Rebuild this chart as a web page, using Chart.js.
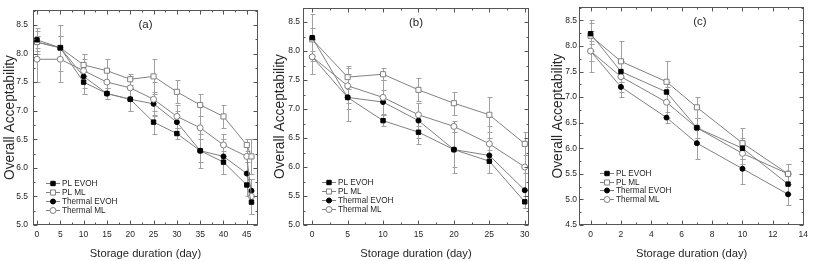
<!DOCTYPE html>
<html>
<head>
<meta charset="utf-8">
<script src="https://cdn.jsdelivr.net/npm/chart.js@4.4.0/dist/chart.umd.min.js"></script>
<style>
  html, body { margin: 0; padding: 0; background: #fff; }
  #wrap { position: relative; width: 813px; height: 261px; overflow: hidden; }
  canvas { position: absolute; top: 0; }
</style>
</head>
<body>
<div id="wrap">
  <canvas id="chartA" width="270" height="261" style="left:0"></canvas>
  <canvas id="chartB" width="270" height="261" style="left:270px"></canvas>
  <canvas id="chartC" width="273" height="261" style="left:540px"></canvas>
</div>
<script>
const seriesNames = ['PL EVOH', 'PL ML', 'Thermal EVOH', 'Thermal ML'];

// panel (a)
const daysA = [0, 5, 10, 15, 20, 25, 30, 35, 40, 45, 46];
const plEvohA = [8.24, 8.1, 7.5, 7.3, 7.2, 6.8, 6.6, 6.3, 6.1, 5.7, 5.4];
const plMlA = [8.2, 8.1, 7.8, 7.7, 7.55, 7.6, 7.33, 7.1, 6.9, 6.4, 6.2];
const thEvohA = [8.2, 8.1, 7.6, 7.3, 7.2, 7.12, 6.8, 6.3, 6.2, 5.9, 5.6];
const thMlA = [7.9, 7.9, 7.7, 7.5, 7.4, 7.2, 6.9, 6.7, 6.4, 6.2, 5.5];
const plEvohErrA = [0.2, 0.2, 0.2, 0.1, 0.2, 0.2, 0.1, 0.3, 0.2, 0.2, 0.2];
const plMlErrA = [0.2, 0.4, 0.2, 0.2, 0.1, 0.3, 0.2, 0.2, 0.2, 0.1, 0.3];
const thEvohErrA = [0.1, 0.2, 0.3, 0.1, 0.2, 0.2, 0.2, 0.2, 0.3, 0.2, 0.2];
const thMlErrA = [0.4, 0.4, 0.3, 0.2, 0.2, 0.3, 0.2, 0.4, 0.2, 0.3, 0.3];

// panel (b)
const daysB = [0, 5, 10, 15, 20, 25, 30];
const plEvohB = [8.23, 7.2, 6.8, 6.6, 6.3, 6.1, 5.4];
const plMlB = [8.2, 7.55, 7.6, 7.33, 7.1, 6.9, 6.4];
const thEvohB = [7.9, 7.2, 7.12, 6.8, 6.3, 6.2, 5.6];
const thMlB = [7.9, 7.4, 7.2, 6.9, 6.7, 6.4, 6.0];
const plEvohErrB = [0.4, 0.4, 0.1, 0.2, 0.3, 0.2, 0.1];
const plMlErrB = [0.2, 0.2, 0.1, 0.2, 0.2, 0.3, 0.2];
const thEvohErrB = [0.3, 0.2, 0.2, 0.3, 0.4, 0.3, 0.3];
const thMlErrB = [0.3, 0.3, 0.3, 0.2, 0.1, 0.3, 0.4];

// panel (c)
const daysC = [0, 2, 5, 7, 10, 13];
const plEvohC = [8.24, 7.5, 7.1, 6.4, 6.0, 5.3];
const plMlC = [8.2, 7.7, 7.3, 6.8, 6.1, 5.5];
const thEvohC = [7.9, 7.2, 6.6, 6.1, 5.6, 5.1];
const thMlC = [7.9, 7.4, 6.9, 6.4, 5.9, 5.5];
const plEvohErrC = [0.2, 0.2, 0.2, 0.2, 0.2, 0.2];
const plMlErrC = [0.3, 0.4, 0.4, 0.2, 0.3, 0.2];
const thEvohErrC = [0.2, 0.2, 0.1, 0.3, 0.3, 0.2];
const thMlErrC = [0.4, 0.3, 0.3, 0.2, 0.2, 0.2];

// tick labels
const xTicksA = [0, 5, 10, 15, 20, 25, 30, 35, 40, 45];
const xTicksB = [0, 5, 10, 15, 20, 25, 30];
const xTicksC = [0, 2, 4, 6, 8, 10, 12, 14];
const yTicksAB = [5.0, 5.5, 6.0, 6.5, 7.0, 7.5, 8.0, 8.5];
const yTicksC = [4.5, 5.0, 5.5, 6.0, 6.5, 7.0, 7.5, 8.0, 8.5];

const sans = "'Liberation Sans', Arial, sans-serif";
const textColor = '#262626';

const markers = [
    {pointStyle: 'rect', radius: 3.1, fill: '#000', stroke: '#000', order: 0},
    {pointStyle: 'rect', radius: 3.6, fill: '#fff', stroke: '#808080', order: 1},
    {pointStyle: 'circle', radius: 2.5, fill: '#000', stroke: '#000', order: 3},
    {pointStyle: 'circle', radius: 3, fill: '#fff', stroke: '#808080', order: 2}
];

const midpoints = (ticks, min, max) => {
    const step = ticks[1] - ticks[0];
    const out = [];
    [ticks[0] - step].concat(ticks).forEach(v => {
        const m = v + step / 2;
        if (m > min && m < max) out.push(m);
    });
    return out;
};

// error bars under the lines
const errorBars = {
    id: 'errorBars',
    beforeDatasetsDraw(chart) {
        const ctx = chart.ctx, ys = chart.scales.y;
        ctx.save();
        ctx.strokeStyle = '#a0a0a0';
        ctx.lineWidth = 1;
        chart.data.datasets.forEach((ds, i) => {
            chart.getDatasetMeta(i).data.forEach((pt, j) => {
                const v = ds.data[j].y, e = ds.errors[j];
                const x = Math.round(pt.x) + 0.5;
                const top = Math.round(ys.getPixelForValue(v + e)) + 0.5;
                const bot = Math.round(ys.getPixelForValue(v - e)) + 0.5;
                ctx.beginPath();
                ctx.moveTo(x, top); ctx.lineTo(x, bot);
                ctx.moveTo(x - 2, top); ctx.lineTo(x + 3, top);
                ctx.moveTo(x - 2, bot); ctx.lineTo(x + 3, bot);
                ctx.stroke();
            });
        });
        ctx.restore();
    }
};

// box with inward ticks on all four sides
const frame = {
    id: 'frame',
    afterDraw(chart, args, o) {
        const {ctx, chartArea: a, scales: {x, y}} = chart;
        const L = Math.round(a.left) + 0.5, R = Math.round(a.right) - 0.5;
        const T = Math.round(a.top) + 0.5, B = Math.round(a.bottom) - 0.5;
        ctx.save();
        ctx.strokeStyle = '#555';
        ctx.lineWidth = 1;
        ctx.strokeRect(L, T, R - L, B - T);
        ctx.beginPath();
        const tx = (v, len) => {
            const p = Math.round(x.getPixelForValue(v)) + 0.5;
            ctx.moveTo(p, B); ctx.lineTo(p, B - len);
            ctx.moveTo(p, T); ctx.lineTo(p, T + len);
        };
        const ty = (v, len) => {
            const p = Math.round(y.getPixelForValue(v)) + 0.5;
            ctx.moveTo(L, p); ctx.lineTo(L + len, p);
            ctx.moveTo(R, p); ctx.lineTo(R - len, p);
        };
        o.xTicks.forEach(v => tx(v, 4));
        midpoints(o.xTicks, x.min, x.max).forEach(v => tx(v, 2));
        o.yTicks.forEach(v => ty(v, 4));
        midpoints(o.yTicks, y.min, y.max).forEach(v => ty(v, 2));
        ctx.stroke();
        ctx.restore();
    }
};

// legend inside lower-left corner + panel letter
const insideLegend = {
    id: 'insideLegend',
    afterDatasetsDraw(chart, args, o) {
        const ctx = chart.ctx, a = chart.chartArea;
        ctx.save();
        ctx.textBaseline = 'middle';
        chart.data.datasets.forEach((ds, i) => {
            const x = a.left + o.dx, yy = Math.round(o.top + i * o.step) + 0.5;
            ctx.strokeStyle = ds.borderColor;
            ctx.lineWidth = 1;
            ctx.beginPath(); ctx.moveTo(x, yy); ctx.lineTo(x + 14, yy); ctx.stroke();
            ctx.fillStyle = ds.pointBackgroundColor;
            ctx.strokeStyle = ds.pointBorderColor;
            Chart.helpers.drawPoint(ctx, {pointStyle: ds.pointStyle, radius: ds.pointRadius, borderWidth: 1, rotation: 0}, x + 7, yy);
            ctx.fillStyle = textColor;
            ctx.font = '8.2px ' + sans;
            ctx.fillText(ds.label, x + 16, yy + 0.5);
        });
        ctx.font = '11.5px ' + sans;
        ctx.textAlign = 'center';
        ctx.fillStyle = textColor;
        ctx.fillText(o.letter, a.left + (a.right - a.left) * o.letterAt, a.top + 15);
        ctx.restore();
    }
};

function makeChart(id, p) {
    const datasets = p.values.map((vals, i) => ({
        label: seriesNames[i],
        data: p.days.map((d, j) => ({x: d, y: vals[j]})),
        errors: p.errors[i],
        order: markers[i].order,
        borderColor: '#808080',
        borderWidth: 1,
        pointStyle: markers[i].pointStyle,
        pointRadius: markers[i].radius,
        pointBackgroundColor: markers[i].fill,
        pointBorderColor: markers[i].stroke,
        pointBorderWidth: 1,
        tension: 0,
        fill: false
    }));
    return new Chart(document.getElementById(id), {
        type: 'line',
        data: {datasets: datasets},
        plugins: [errorBars, insideLegend, frame],
        options: {
            responsive: false,
            animation: false,
            layout: {padding: {left: p.padLeft, right: p.padRight, top: 1, bottom: 0}},
            scales: {
                x: {
                    type: 'linear',
                    min: p.xMin,
                    max: p.xMax,
                    afterBuildTicks: sc => { sc.ticks = p.xTicks.map(v => ({value: v})); },
                    afterFit: sc => { sc.height = 36; },
                    grid: {display: false, drawTicks: false},
                    border: {display: false},
                    ticks: {color: textColor, font: {family: sans, size: 8.5}, padding: 5, maxRotation: 0, autoSkip: false},
                    title: {display: true, text: 'Storage duration (day)', color: textColor,
                        font: {family: sans, size: 11.2, lineHeight: 1}, padding: {top: 0, bottom: 1}}
                },
                y: {
                    min: p.yMin,
                    max: p.yMax,
                    afterBuildTicks: sc => { sc.ticks = p.yTicks.map(v => ({value: v})); },
                    afterFit: sc => { sc.width = p.yWidth; },
                    grid: {display: false, drawTicks: false},
                    border: {display: false},
                    ticks: {color: textColor, font: {family: sans, size: 8.5}, padding: p.tickPad,
                        callback: v => v.toFixed(1)},
                    title: {display: true, text: 'Overall Acceptability', color: textColor,
                        font: {family: sans, size: 13.8, lineHeight: 1}, padding: {top: 3, bottom: 0}}
                }
            },
            plugins: {
                legend: {display: false},
                tooltip: {enabled: false},
                frame: {xTicks: p.xTicks, yTicks: p.yTicks},
                insideLegend: {dx: p.legendDx, top: p.legendTop, step: p.legendStep, letter: p.letter, letterAt: p.letterAt}
            }
        }
    });
}

makeChart('chartA', {
    days: daysA,
    values: [plEvohA, plMlA, thEvohA, thMlA],
    errors: [plEvohErrA, plMlErrA, thEvohErrA, thMlErrA],
    xTicks: xTicksA, yTicks: yTicksAB,
    xMin: -0.85, xMax: 47.4, yMin: 5.0, yMax: 8.76,
    padLeft: 0, padRight: 12, yWidth: 33, tickPad: 5,
    legendDx: 13, legendTop: 182.7, legendStep: 9, letter: '(a)', letterAt: 0.5
});

makeChart('chartB', {
    days: daysB,
    values: [plEvohB, plMlB, thEvohB, thMlB],
    errors: [plEvohErrB, plMlErrB, thEvohErrB, thMlErrB],
    xTicks: xTicksB, yTicks: yTicksAB,
    xMin: -1.3, xMax: 30.6, yMin: 5.0, yMax: 8.74,
    padLeft: 0, padRight: 11, yWidth: 33, tickPad: 3,
    legendDx: 19, legendTop: 182.3, legendStep: 9, letter: '(b)', letterAt: 0.5
});

makeChart('chartC', {
    days: daysC,
    values: [plEvohC, plMlC, thEvohC, thMlC],
    errors: [plEvohErrC, plMlErrC, thEvohErrC, thMlErrC],
    xTicks: xTicksC, yTicks: yTicksC,
    xMin: -0.76, xMax: 14.07, yMin: 4.5, yMax: 8.76,
    padLeft: 8, padRight: 6, yWidth: 31, tickPad: 2,
    legendDx: 21, legendTop: 173, legendStep: 8.5, letter: '(c)', letterAt: 0.537
});
</script>
</body>
</html>
